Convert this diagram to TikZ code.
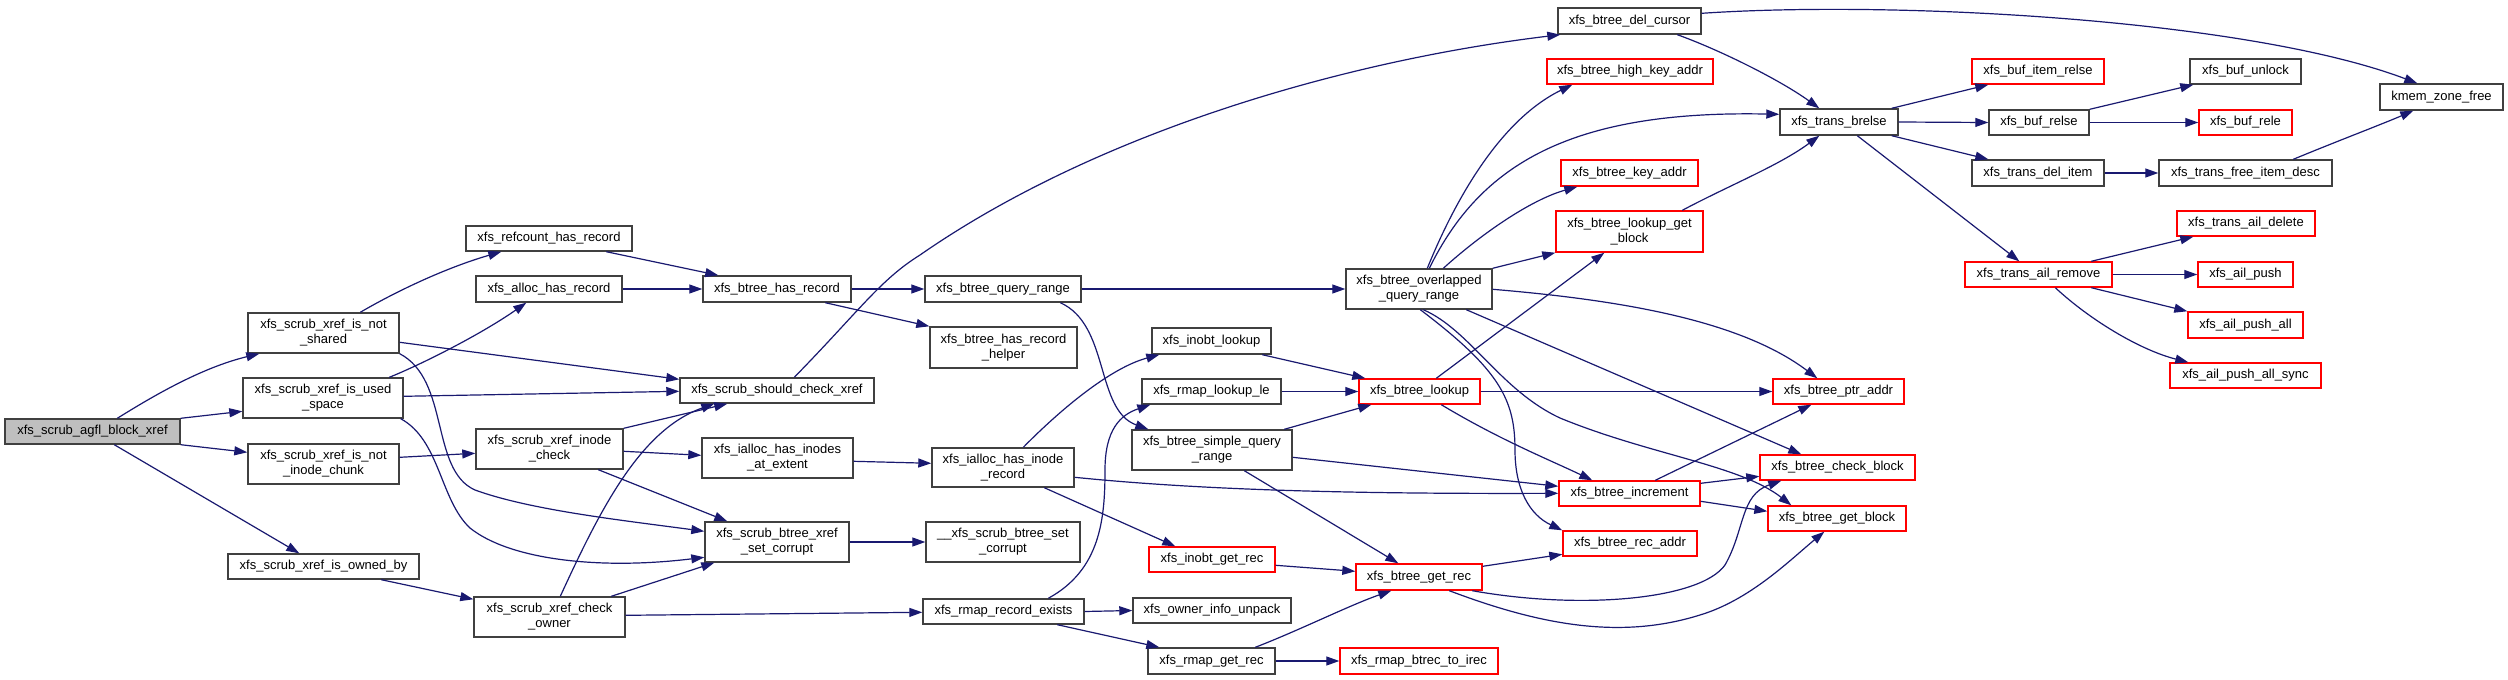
\documentclass[tikz,border=0pt]{standalone}
\usepackage{fontspec}
\setmainfont{Liberation Sans}
\usetikzlibrary{arrows.meta,calc}
\definecolor{edgec}{HTML}{191970}
\definecolor{boxc}{HTML}{404040}
\definecolor{redc}{HTML}{FF0000}
\definecolor{rootc}{HTML}{BFBFBF}
\tikzset{
 fn/.style={draw=boxc, line width=0.7pt, inner sep=0pt, align=center, font=\fontsize{6.5}{7.5}\selectfont},
 fnred/.style={fn, draw=redc},
 fnroot/.style={fn, fill=rootc},
 call/.style={draw=edgec, line width=0.6pt, -{Triangle[length=6.5pt,width=4.5pt]}},
}
\newcommand\mkbox[7]{%
  \pgfmathsetmacro\bcx{(#2+#4)/2}%
  \pgfmathsetmacro\bcy{(#3+#5)/2}%
  \pgfmathsetmacro\bw{(#4-#2)*0.5}%
  \pgfmathsetmacro\bh{(#5-#3)*0.5}%
  \node[#6, minimum width=\bw pt, minimum height=\bh pt] (#1) at (\bcx,\bcy) {#7};}
\begin{document}
\begin{tikzpicture}[x=0.5pt,y=-0.5pt]
\fill[white] (0,0) rectangle (2508,680);
\useasboundingbox (0,0) rectangle (2508,680);
% nodes
\mkbox{agfl}{5}{419}{180}{444}{fnroot}{xfs\_scrub\_agfl\_block\_xref}
\mkbox{nsh}{248}{313}{399}{353}{fn}{xfs\_scrub\_xref\_is\_not\\\_shared}
\mkbox{used}{243}{378}{403}{418}{fn}{xfs\_scrub\_xref\_is\_used\\\_space}
\mkbox{nic}{248}{444}{399}{484}{fn}{xfs\_scrub\_xref\_is\_not\\\_inode\_chunk}
\mkbox{owned}{228}{554}{419}{579}{fn}{xfs\_scrub\_xref\_is\_owned\_by}
\mkbox{refc}{466}{226}{632}{251}{fn}{xfs\_refcount\_has\_record}
\mkbox{alloc}{476}{276}{622}{302}{fn}{xfs\_alloc\_has\_record}
\mkbox{inode}{476}{429}{623}{469}{fn}{xfs\_scrub\_xref\_inode\\\_check}
\mkbox{owner}{474}{597}{625}{637}{fn}{xfs\_scrub\_xref\_check\\\_owner}
\mkbox{bhr}{703}{276}{851}{302}{fn}{xfs\_btree\_has\_record}
\mkbox{should}{680}{378}{874}{403}{fn}{xfs\_scrub\_should\_check\_xref}
\mkbox{inodes}{702}{438}{853}{478}{fn}{xfs\_ialloc\_has\_inodes\\\_at\_extent}
\mkbox{setc}{705}{522}{849}{562}{fn}{xfs\_scrub\_btree\_xref\\\_set\_corrupt}
\mkbox{bqr}{925}{276}{1081}{302}{fn}{xfs\_btree\_query\_range}
\mkbox{helper}{930}{327}{1077}{368}{fn}{xfs\_btree\_has\_record\\\_helper}
\mkbox{irec}{932}{448}{1074}{487}{fn}{xfs\_ialloc\_has\_inode\\\_record}
\mkbox{usetc}{926}{522}{1080}{562}{fn}{\_\_xfs\_scrub\_btree\_set\\\_corrupt}
\mkbox{rre}{923}{599}{1084}{624}{fn}{xfs\_rmap\_record\_exists}
\mkbox{inobt}{1152}{328}{1271}{354}{fn}{xfs\_inobt\_lookup}
\mkbox{rlle}{1142}{379}{1281}{404}{fn}{xfs\_rmap\_lookup\_le}
\mkbox{bsqr}{1132}{430}{1292}{470}{fn}{xfs\_btree\_simple\_query\\\_range}
\mkbox{igr}{1149}{547}{1275}{572}{fnred}{xfs\_inobt\_get\_rec}
\mkbox{oiu}{1133}{598}{1291}{623}{fn}{xfs\_owner\_info\_unpack}
\mkbox{rgr}{1148}{648}{1275}{674}{fn}{xfs\_rmap\_get\_rec}
\mkbox{boqr}{1346}{269}{1492}{309}{fn}{xfs\_btree\_overlapped\\\_query\_range}
\mkbox{blk}{1359}{379}{1480}{404}{fnred}{xfs\_btree\_lookup}
\mkbox{bgr}{1356}{564}{1482}{590}{fnred}{xfs\_btree\_get\_rec}
\mkbox{rbti}{1340}{648}{1498}{674}{fnred}{xfs\_rmap\_btrec\_to\_irec}
\mkbox{del}{1558}{8}{1701}{34}{fn}{xfs\_btree\_del\_cursor}
\mkbox{hka}{1547}{59}{1713}{84}{fnred}{xfs\_btree\_high\_key\_addr}
\mkbox{ka}{1561}{160}{1698}{186}{fnred}{xfs\_btree\_key\_addr}
\mkbox{lgb}{1556}{211}{1703}{252}{fnred}{xfs\_btree\_lookup\_get\\\_block}
\mkbox{inc}{1559}{481}{1700}{506}{fnred}{xfs\_btree\_increment}
\mkbox{rca}{1563}{531}{1697}{556}{fnred}{xfs\_btree\_rec\_addr}
\mkbox{ptr}{1773}{379}{1904}{404}{fnred}{xfs\_btree\_ptr\_addr}
\mkbox{chk}{1760}{455}{1915}{480}{fnred}{xfs\_btree\_check\_block}
\mkbox{gbk}{1768}{506}{1906}{531}{fnred}{xfs\_btree\_get\_block}
\mkbox{tbr}{1780}{109}{1898}{135}{fn}{xfs\_trans\_brelse}
\mkbox{bir}{1972}{59}{2104}{84}{fnred}{xfs\_buf\_item\_relse}
\mkbox{brl}{1989}{110}{2089}{135}{fn}{xfs\_buf\_relse}
\mkbox{tdi}{1972}{160}{2104}{186}{fn}{xfs\_trans\_del\_item}
\mkbox{tar}{1965}{262}{2112}{287}{fnred}{xfs\_trans\_ail\_remove}
\mkbox{bun}{2190}{59}{2301}{84}{fn}{xfs\_buf\_unlock}
\mkbox{brel}{2199}{110}{2292}{135}{fnred}{xfs\_buf\_rele}
\mkbox{tfid}{2159}{160}{2332}{186}{fn}{xfs\_trans\_free\_item\_desc}
\mkbox{kmem}{2380}{84}{2503}{110}{fn}{kmem\_zone\_free}
\mkbox{tad}{2177}{211}{2315}{236}{fnred}{xfs\_trans\_ail\_delete}
\mkbox{aps}{2198}{262}{2293}{287}{fnred}{xfs\_ail\_push}
\mkbox{apa}{2188}{312}{2303}{338}{fnred}{xfs\_ail\_push\_all}
\mkbox{apsy}{2170}{363}{2321}{388}{fnred}{xfs\_ail\_push\_all\_sync}
% edges
\draw[call] ($(agfl.north west)+(113,0)$) .. controls (150,398) and (200,368) .. ($(nsh.south west)+(12,0)$);
\draw[call] (agfl.north east) -- ($(used.north west)+(0,34)$);
\draw[call] (agfl.south east) -- ($(nic.north west)+(0,9)$);
\draw[call] ($(agfl.south west)+(110,0)$) -- ($(owned.north west)+(72,0)$);
\draw[call] ($(nsh.north west)+(113,0)$) .. controls (395,292) and (445,268) .. ($(refc.south west)+(36,0)$);
\draw[call] ($(nsh.north east)+(0,30)$) -- ($(should.north west)+(0,2)$);
\draw[call] (nsh.south east) .. controls (450,380) and (430,470) .. (475,490) .. controls (530,510) and (620,520) .. ($(setc.north west)+(0,10)$);
\draw[call] ($(used.north west)+(147,0)$) .. controls (420,365) and (480,335) .. ($(alloc.south west)+(51,0)$);
\draw[call] ($(used.north east)+(0,19)$) -- ($(should.north west)+(0,14)$);
\draw[call] ($(used.south east)+(-3,0)$) .. controls (440,440) and (440,500) .. (470,528) .. controls (510,560) and (600,570) .. ($(setc.north west)+(0,36)$);
\draw[call] ($(nic.north east)+(0,14)$) -- ($(inode.north west)+(0,25)$);
\draw[call] ($(owned.south west)+(154,0)$) -- ($(owner.north west)+(0,3)$);
\draw[call] ($(refc.south west)+(141,0)$) -- ($(bhr.north west)+(16,0)$);
\draw[call] (alloc.east) -- (bhr.west);
\draw[call] (inode.north east) -- ($(should.south west)+(48,0)$);
\draw[call] ($(inode.north east)+(0,23)$) -- ($(inodes.north west)+(0,18)$);
\draw[call] ($(inode.south west)+(123,0)$) -- ($(setc.north west)+(23,0)$);
\draw[call] ($(owner.north west)+(87,0)$) .. controls (600,510) and (640,430) .. ($(should.south west)+(35,0)$);
\draw[call] ($(owner.north west)+(138,0)$) -- ($(setc.south west)+(10,0)$);
\draw[call] ($(owner.north east)+(0,19)$) -- ($(rre.north west)+(0,14)$);
\draw[call] ($(should.north west)+(115,0)$) .. controls (860,310) and (880,280) .. (920,255) .. controls (1100,130) and (1350,60) .. ($(del.south west)+(3,0)$);
\draw[call] (bhr.east) -- (bqr.west);
\draw[call] ($(bhr.south west)+(123,0)$) -- (helper.north west);
\draw[call] (bqr.east) -- (boqr.west);
\draw[call] ($(bqr.south west)+(136,0)$) .. controls (1110,325) and (1095,410) .. ($(bsqr.north west)+(17,0)$);
\draw[call] ($(inodes.north east)+(0,24)$) -- ($(irec.north west)+(0,16)$);
\draw[call] ($(irec.north west)+(92,0)$) .. controls (1060,410) and (1110,368) .. ($(inobt.south west)+(8,0)$);
\draw[call] ($(irec.north east)+(0,30)$) .. controls (1200,490) and (1350,494) .. ($(inc.north west)+(0,13)$);
\draw[call] ($(irec.south west)+(113,0)$) -- ($(igr.north west)+(27,0)$);
\draw[call] (setc.east) -- (usetc.west);
\draw[call] ($(rre.north west)+(126,0)$) .. controls (1100,570) and (1105,520) .. (1105,470) .. controls (1105,430) and (1120,415) .. ($(rlle.south west)+(9,0)$);
\draw[call] (rre.east) -- (oiu.west);
\draw[call] ($(rre.south west)+(135,0)$) -- ($(rgr.north west)+(12,0)$);
\draw[call] ($(inobt.south west)+(111,0)$) -- ($(blk.north west)+(7,0)$);
\draw[call] (rlle.east) -- (blk.west);
\draw[call] ($(bsqr.north west)+(153,0)$) -- ($(blk.south west)+(13,0)$);
\draw[call] ($(bsqr.north east)+(0,28)$) -- ($(inc.north west)+(0,6)$);
\draw[call] ($(bsqr.south west)+(113,0)$) -- ($(bgr.north west)+(43,0)$);
\draw[call] ($(igr.north east)+(0,19)$) -- ($(bgr.north west)+(0,8)$);
\draw[call] ($(rgr.north west)+(108,0)$) .. controls (1300,630) and (1350,605) .. ($(bgr.south west)+(36,0)$);
\draw[call] (rgr.east) -- (rbti.west);
\draw[call] ($(boqr.north west)+(82,0)$) .. controls (1455,200) and (1500,120) .. ($(hka.south west)+(26,0)$);
\draw[call] ($(boqr.north west)+(84,0)$) .. controls (1480,165) and (1570,110) .. ($(tbr.north west)+(0,6)$);
\draw[call] ($(boqr.north west)+(98,0)$) .. controls (1480,235) and (1530,200) .. ($(ka.south west)+(17,0)$);
\draw[call] (boqr.north east) -- (lgb.south west);
\draw[call] ($(boqr.north east)+(0,21)$) .. controls (1620,300) and (1740,320) .. ($(ptr.north west)+(45,0)$);
\draw[call] ($(boqr.south west)+(121,0)$) -- ($(chk.north west)+(42,0)$);
\draw[call] ($(boqr.south west)+(78,0)$) .. controls (1470,330) and (1500,390) .. (1560,418) .. controls (1650,455) and (1740,465) .. ($(gbk.north west)+(24,0)$);
\draw[call] ($(boqr.south west)+(75,0)$) .. controls (1500,370) and (1515,400) .. (1515,450) .. controls (1515,490) and (1530,515) .. (rca.north west);
\draw[call] ($(blk.north west)+(78,0)$) -- ($(lgb.south west)+(49,0)$);
\draw[call] (blk.east) -- (ptr.west);
\draw[call] ($(blk.south west)+(83,0)$) .. controls (1500,440) and (1550,460) .. ($(inc.north west)+(34,0)$);
\draw[call] ($(inc.north west)+(97,0)$) -- ($(ptr.south west)+(39,0)$);
\draw[call] ($(inc.north east)+(0,3)$) -- ($(chk.north west)+(0,22)$);
\draw[call] ($(inc.north east)+(0,21)$) -- ($(gbk.north west)+(0,6)$);
\draw[call] ($(bgr.north east)+(0,3)$) -- ($(rca.north west)+(0,24)$);
\draw[call] ($(bgr.south west)+(117,0)$) .. controls (1580,610) and (1700,600) .. (1725,565) .. controls (1745,530) and (1740,495) .. ($(chk.south west)+(22,0)$);
\draw[call] ($(bgr.south west)+(94,0)$) .. controls (1540,625) and (1620,640) .. (1700,615) .. controls (1750,600) and (1790,560) .. ($(gbk.south west)+(57,0)$);
\draw[call] ($(lgb.north west)+(127,0)$) .. controls (1730,185) and (1780,165) .. ($(tbr.south west)+(40,0)$);
\draw[call] ($(del.south west)+(120,0)$) .. controls (1720,50) and (1780,80) .. ($(tbr.north west)+(40,0)$);
\draw[call] ($(del.north east)+(0,6)$) .. controls (1900,0) and (2250,20) .. ($(kmem.north west)+(38,0)$);
\draw[call] ($(tbr.north east)+(-7,0)$) -- ($(bir.south west)+(17,0)$);
\draw[call] (tbr.east) -- (brl.west);
\draw[call] ($(tbr.south east)+(-7,0)$) -- ($(tdi.north west)+(17,0)$);
\draw[call] ($(tbr.south west)+(78,0)$) -- ($(tar.north west)+(55,0)$);
\draw[call] (brl.north east) -- ($(bun.south west)+(4,0)$);
\draw[call] (brl.east) -- (brel.west);
\draw[call] (tdi.east) -- (tfid.west);
\draw[call] ($(tfid.north west)+(135,0)$) .. controls (2340,140) and (2380,125) .. ($(kmem.south west)+(34,0)$);
\draw[call] ($(tar.north west)+(127,0)$) -- ($(tad.south west)+(17,0)$);
\draw[call] (tar.east) -- (aps.west);
\draw[call] ($(tar.south west)+(127,0)$) -- (apa.north west);
\draw[call] ($(tar.south west)+(91,0)$) .. controls (2090,320) and (2140,350) .. ($(apsy.north west)+(19,0)$);
\end{tikzpicture}
\end{document}
